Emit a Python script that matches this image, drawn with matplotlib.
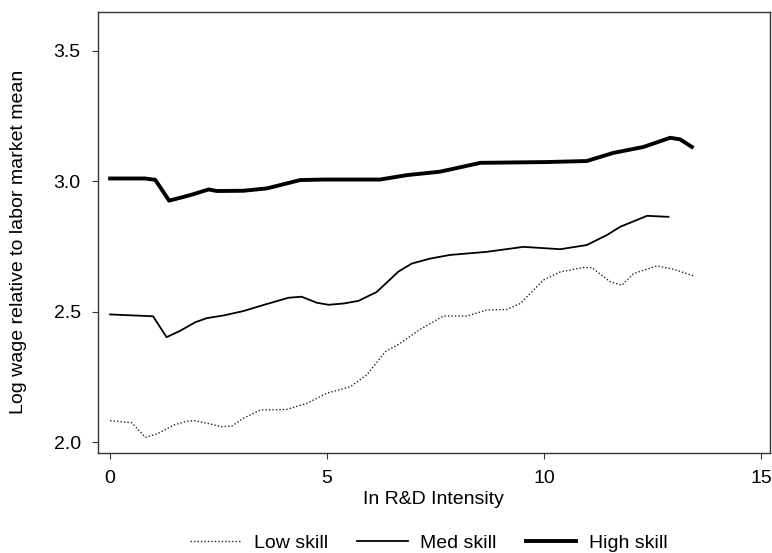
import matplotlib
matplotlib.use("Agg")
import matplotlib.pyplot as plt

plt.rcParams['font.family'] = ['Liberation Sans', 'DejaVu Sans']

# values
low_x = [0.0, 0.5, 0.81, 1.08, 1.46, 1.77, 1.96, 2.23, 2.57, 2.8, 3.07, 3.46, 4.07, 4.53,
         4.99, 5.53, 5.91, 6.34, 6.68, 7.14, 7.68, 8.22, 8.68, 9.14, 9.45, 9.98, 10.37,
         10.91, 11.1, 11.52, 11.79, 12.06, 12.6, 12.98, 13.44]
low_y = [2.082, 2.074, 2.018, 2.031, 2.065, 2.08, 2.082, 2.072, 2.059, 2.061, 2.091, 2.123,
         2.125, 2.148, 2.187, 2.212, 2.257, 2.346, 2.378, 2.432, 2.483, 2.483, 2.506, 2.508,
         2.531, 2.621, 2.652, 2.669, 2.668, 2.614, 2.601, 2.646, 2.675, 2.662, 2.637]

med_x = [0.0, 0.99, 1.3, 1.61, 1.96, 2.23, 2.61, 3.07, 3.61, 4.11, 4.41, 4.76, 5.03, 5.38,
         5.72, 6.14, 6.64, 6.95, 7.37, 7.83, 8.68, 9.52, 10.37, 10.98, 11.44, 11.75, 12.37,
         12.86]
med_y = [2.489, 2.482, 2.402, 2.426, 2.459, 2.475, 2.485, 2.502, 2.529, 2.553, 2.557, 2.534,
         2.526, 2.531, 2.541, 2.575, 2.653, 2.684, 2.703, 2.717, 2.729, 2.748, 2.739, 2.755,
         2.793, 2.825, 2.867, 2.863]

high_x = [0.0, 0.8, 1.04, 1.36, 1.84, 2.27, 2.46, 3.07, 3.61, 4.38, 4.91, 6.22, 6.84, 7.6,
          8.53, 10.06, 10.98, 11.59, 12.29, 12.9, 13.13, 13.4]
high_y = [3.01, 3.01, 3.005, 2.925, 2.946, 2.968, 2.962, 2.963, 2.972, 3.004, 3.006, 3.006,
          3.023, 3.036, 3.07, 3.073, 3.077, 3.108, 3.131, 3.166, 3.16, 3.131]

x_ticks = [0, 5, 10, 15]
y_ticks = [2.0, 2.5, 3.0, 3.5]

fig = plt.figure(figsize=(7.72, 5.53), dpi=100)
ax = fig.add_axes([0.1263, 0.1808, 0.8711, 0.7975])

ax.plot(low_x, low_y, color='#222222', lw=1.0, ls=(0, (1, 1.5)), label='Low skill')
ax.plot(med_x, med_y, color='black', lw=1.3, label='Med skill')
ax.plot(high_x, high_y, color='black', lw=2.8, label='High skill')

ax.set_xlim(-0.29, 15.2)
ax.set_ylim(1.958, 3.648)
ax.set_xticks(x_ticks)
ax.set_yticks(y_ticks)
ax.set_yticklabels([f"{v:.1f}" for v in y_ticks])
ax.tick_params(direction='out', length=4, width=0.8, labelsize=14, pad=8, color='#333333')
for s in ax.spines.values():
    s.set_color('#333333')
    s.set_linewidth(1.0)

ax.set_xlabel('In R&D Intensity', fontsize=14, labelpad=3)
ax.set_ylabel('Log wage relative to labor market mean', fontsize=14)
ax.yaxis.set_label_coords(-0.105, 0.478)

fig.legend(loc='lower center', bbox_to_anchor=(429 / 772, -0.012), ncol=3, frameon=False,
           fontsize=14, handlelength=2.6, columnspacing=1.5, handletextpad=0.65,
           borderaxespad=0.0)

fig.savefig('out.png', dpi=100)
